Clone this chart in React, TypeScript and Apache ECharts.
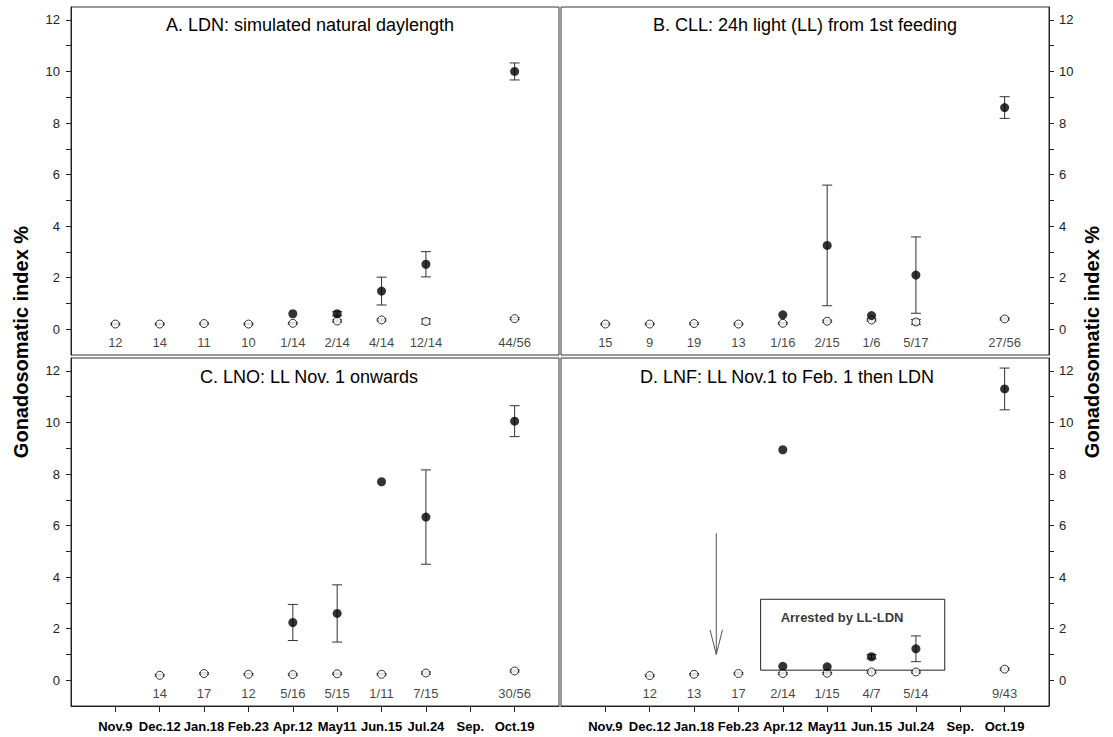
import React, { useEffect, useRef } from "react";
import * as echarts from "echarts";

// ---------- data ----------
const dates = ["Nov.9", "Dec.12", "Jan.18", "Feb.23", "Apr.12", "May11", "Jun.15", "Jul.24", "Sep.", "Oct.19"];
const yTickValues = [0, 1, 2, 3, 4, 5, 6, 7, 8, 9, 10, 11, 12];
const yLabelValues = [0, 2, 4, 6, 8, 10, 12];

const panelTitles = [
  "A. LDN: simulated natural daylength",
  "B. CLL: 24h light (LL) from 1st feeding",
  "C. LNO: LL Nov. 1 onwards",
  "D. LNF: LL Nov.1 to Feb. 1 then LDN",
];
const yTitle = "Gonadosomatic index %";

// Panel A
const aOpen = [0.2, 0.2, 0.22, 0.2, 0.23, 0.32, 0.36, 0.3, null, 0.41];
const aOpenErr = [0.03, 0.03, 0.03, 0.03, 0.03, 0.04, 0.04, 0.1, null, 0.04];
const aFilled = [null, null, null, null, 0.6, 0.6, 1.48, 2.52, null, 10.0];
const aFilledErr = [null, null, null, null, 0, 0.08, 0.54, 0.49, null, 0.33];
const aN = ["12", "14", "11", "10", "1/14", "2/14", "4/14", "12/14", "", "44/56"];

// Panel B
const bOpen = [0.2, 0.2, 0.22, 0.2, 0.23, 0.31, 0.36, 0.28, null, 0.4];
const bOpenErr = [0.03, 0.03, 0.03, 0.03, 0.03, 0.04, 0.04, 0.1, null, 0.04];
const bFilled = [null, null, null, null, 0.56, 3.25, 0.53, 2.1, null, 8.6];
const bFilledErr = [null, null, null, null, 0, 2.34, 0, 1.48, null, 0.42];
const bN = ["15", "9", "19", "13", "1/16", "2/15", "1/6", "5/17", "", "27/56"];

// Panel C
const cOpen = [null, 0.19, 0.26, 0.23, 0.22, 0.25, 0.23, 0.28, null, 0.36];
const cOpenErr = [null, 0.03, 0.03, 0.03, 0.03, 0.03, 0.03, 0.04, null, 0.04];
const cFilled = [null, null, null, null, 2.24, 2.59, 7.7, 6.33, null, 10.05];
const cFilledErr = [null, null, null, null, 0.7, 1.11, 0, 1.83, null, 0.6];
const cN = ["", "14", "17", "12", "5/16", "5/15", "1/11", "7/15", "", "30/56"];

// Panel D
const dOpen = [null, 0.18, 0.23, 0.26, 0.26, 0.27, 0.32, 0.32, null, 0.43];
const dOpenErr = [null, 0.03, 0.03, 0.03, 0.03, 0.03, 0.04, 0.04, null, 0.04];
const dFilled = [null, null, null, null, 8.94, null, null, null, null, 11.3];
const dFilledErr = [null, null, null, null, 0, null, null, null, null, 0.81];
const dArrested = [null, null, null, null, 0.54, 0.52, 0.91, 1.22, null, null];
const dArrestedErr = [null, null, null, null, 0, 0, 0.08, 0.5, null, null];
const dN = ["", "12", "13", "17", "2/14", "1/15", "4/7", "5/14", "", "9/43"];

// Annotation in panel D (axis units)
const boxLabel = "Arrested by LL-LDN";
const boxX = [3.5, 7.65];
const boxY = [0.39, 3.14];
const arrowShaft = [[2.5, 5.7], [2.5, 1.0]];
const arrowHead = [[2.36, 1.95], [2.5, 1.0], [2.64, 1.95]];

// ---------- helpers ----------
const FONT = "'Liberation Sans', Arial, Helvetica, sans-serif";
const N_LABEL_Y = -0.52;

const pts = (arr: (number | null)[]) =>
  arr.map((v, i) => (v == null ? null : [i, v])).filter((d) => d) as number[][];
const errPts = (vals: (number | null)[], errs: (number | null)[]) =>
  vals
    .map((v, i) => (v == null || errs[i] == null || errs[i] === 0 ? null : [i, v, errs[i] as number]))
    .filter((d) => d) as number[][];

function errorSeries(idx: number, data: number[][], color: string) {
  return {
    type: "custom",
    xAxisIndex: idx,
    yAxisIndex: idx,
    z: 1,
    silent: true,
    dimensions: ["x", "y", "e"],
    encode: { x: 0, y: 1 },
    data,
    renderItem: (params: any, api: any) => {
      const x = api.value(0);
      const y = api.value(1);
      const e = api.value(2);
      const top = api.coord([x, y + e]);
      const bot = api.coord([x, y - e]);
      const hw = 5;
      const style = { stroke: color, lineWidth: 1 };
      return {
        type: "group",
        children: [
          { type: "line", shape: { x1: top[0], y1: top[1], x2: bot[0], y2: bot[1] }, style },
          { type: "line", shape: { x1: top[0] - hw, y1: top[1], x2: top[0] + hw, y2: top[1] }, style },
          { type: "line", shape: { x1: bot[0] - hw, y1: bot[1], x2: bot[0] + hw, y2: bot[1] }, style },
        ],
      };
    },
  };
}

function openSeries(idx: number, vals: (number | null)[]) {
  return {
    type: "scatter",
    xAxisIndex: idx,
    yAxisIndex: idx,
    z: 3,
    symbol: "circle",
    symbolSize: 8,
    itemStyle: { color: "#ffffff", borderColor: "#000000", borderWidth: 1 },
    data: pts(vals),
  };
}

function filledSeries(idx: number, vals: (number | null)[]) {
  return {
    type: "scatter",
    xAxisIndex: idx,
    yAxisIndex: idx,
    z: 4,
    symbol: "circle",
    symbolSize: 9,
    itemStyle: { color: "#000000" },
    data: pts(vals),
  };
}

function nLabelSeries(idx: number, labels: string[]) {
  return {
    type: "scatter",
    xAxisIndex: idx,
    yAxisIndex: idx,
    symbolSize: 0,
    silent: true,
    data: labels.map((t, i) => (t ? { value: [i, N_LABEL_Y], name: t } : null)).filter((d) => d),
    label: {
      show: true,
      position: "inside",
      formatter: (p: any) => p.name,
      fontFamily: FONT,
      fontSize: 13,
      color: "#111",
    },
  };
}

const grids = [
  { left: 71, top: 7, width: 488, height: 348 },
  { left: 561, top: 7, width: 488, height: 348 },
  { left: 71, top: 358, width: 488, height: 348 },
  { left: 561, top: 358, width: 488, height: 348 },
];

export default function App() {
  const ref = useRef<HTMLDivElement>(null);

  useEffect(() => {
    if (!ref.current) return;
    const chart = echarts.init(ref.current, undefined, { renderer: "svg" });

    const xAxes = grids.map((_, i) => {
      const bottomPanel = i >= 2;
      return {
        type: "value",
        gridIndex: i,
        min: -1,
        max: 10,
        interval: 1,
        show: bottomPanel,
        position: "bottom",
        splitLine: { show: false },
        axisLine: { show: true, onZero: false, lineStyle: { color: "#222", width: 1 } },
        axisTick: {
          show: true,
          inside: false,
          length: 6,
          customValues: dates.map((_, k) => k),
          lineStyle: { color: "#222" },
        },
        axisLabel: {
          show: true,
          customValues: dates.map((_, k) => k),
          formatter: (v: number) => dates[Math.round(v)] ?? "",
          margin: 14,
          fontFamily: FONT,
          fontSize: 13,
          fontWeight: "bold",
          color: "#000",
        },
      };
    });

    const yAxes = grids.map((_, i) => {
      const right = i % 2 === 1;
      return {
        type: "value",
        gridIndex: i,
        min: -1,
        max: 12.5,
        interval: 1,
        position: right ? "right" : "left",
        splitLine: { show: false },
        axisLine: { show: true, onZero: false, lineStyle: { color: "#222", width: 1 } },
        axisTick: {
          show: true,
          inside: false,
          length: 5,
          customValues: yTickValues,
          lineStyle: { color: "#222" },
        },
        axisLabel: {
          show: true,
          customValues: yLabelValues,
          margin: right ? 10 : 11,
          fontFamily: FONT,
          fontSize: 13,
          color: "#222",
        },
      };
    });

    const series: any[] = [
      // A
      errorSeries(0, errPts(aOpen, aOpenErr), "#333"),
      errorSeries(0, errPts(aFilled, aFilledErr), "#333"),
      openSeries(0, aOpen),
      filledSeries(0, aFilled),
      nLabelSeries(0, aN),
      // B
      errorSeries(1, errPts(bOpen, bOpenErr), "#333"),
      errorSeries(1, errPts(bFilled, bFilledErr), "#333"),
      openSeries(1, bOpen),
      filledSeries(1, bFilled),
      nLabelSeries(1, bN),
      // C
      errorSeries(2, errPts(cOpen, cOpenErr), "#333"),
      errorSeries(2, errPts(cFilled, cFilledErr), "#333"),
      openSeries(2, cOpen),
      filledSeries(2, cFilled),
      nLabelSeries(2, cN),
      // D
      errorSeries(3, errPts(dOpen, dOpenErr), "#333"),
      errorSeries(3, errPts(dFilled, dFilledErr), "#333"),
      errorSeries(3, errPts(dArrested, dArrestedErr), "#333"),
      openSeries(3, dOpen),
      filledSeries(3, dFilled),
      {
        ...filledSeries(3, dArrested),
        markArea: {
          silent: true,
          itemStyle: { color: "rgba(0,0,0,0)", borderColor: "#222", borderWidth: 1 },
          label: { show: false },
          data: [[{ coord: [boxX[0], boxY[1]] }, { coord: [boxX[1], boxY[0]] }]],
        },
      },
      {
        type: "scatter",
        xAxisIndex: 3,
        yAxisIndex: 3,
        symbolSize: 0,
        silent: true,
        data: [[boxX[0], boxY[1]]],
        label: {
          show: true,
          position: "right",
          distance: 0,
          offset: [20, 18],
          formatter: boxLabel,
          fontFamily: FONT,
          fontSize: 13,
          fontWeight: "bold",
          color: "#000",
        },
      },
      nLabelSeries(3, dN),
      {
        type: "line",
        xAxisIndex: 3,
        yAxisIndex: 3,
        symbol: "none",
        silent: true,
        lineStyle: { color: "#555", width: 1 },
        data: arrowShaft,
      },
      {
        type: "line",
        xAxisIndex: 3,
        yAxisIndex: 3,
        symbol: "none",
        silent: true,
        lineStyle: { color: "#555", width: 1 },
        data: arrowHead,
      },
    ];

    const titleCenters = [
      [310, 25],
      [805, 25],
      [309, 377],
      [787, 377],
    ];

    const graphic: any[] = panelTitles.map((t, i) => ({
      type: "text",
      x: titleCenters[i][0],
      y: titleCenters[i][1],
      style: {
        text: t,
        font: `18px ${FONT}`,
        fill: "#000",
        textAlign: "center",
        textVerticalAlign: "middle",
        align: "center",
        verticalAlign: "middle",
      },
    }));
    [21, 1092].forEach((x) => {
      graphic.push({
        type: "text",
        x,
        y: 342,
        rotation: Math.PI / 2,
        style: {
          text: yTitle,
          font: `bold 20px ${FONT}`,
          fill: "#000",
          textAlign: "center",
          textVerticalAlign: "middle",
          align: "center",
          verticalAlign: "middle",
        },
      });
    });

    chart.setOption({
      animation: false,
      backgroundColor: "#ffffff",
      grid: grids.map((g) => ({
        ...g,
        show: true,
        borderColor: "#333",
        borderWidth: 1,
        backgroundColor: "transparent",
        containLabel: false,
      })),
      xAxis: xAxes,
      yAxis: yAxes,
      series,
      graphic,
    });

    return () => chart.dispose();
  }, []);

  return (
    <div
      ref={ref}
      style={{ position: "fixed", left: 0, top: 0, width: 1113, height: 737, background: "#fff" }}
    />
  );
}
